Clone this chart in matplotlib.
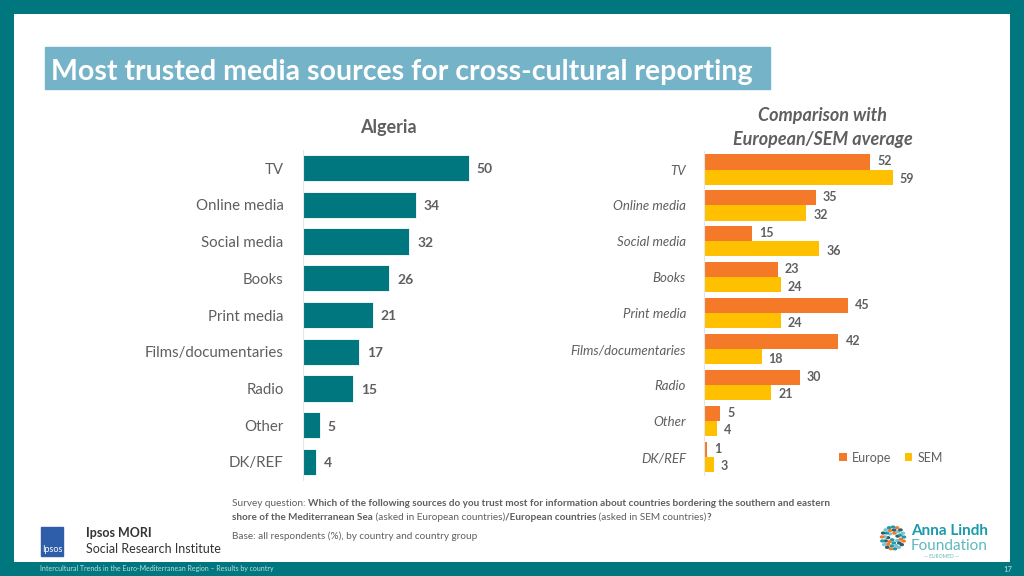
import matplotlib
matplotlib.use("Agg")
import matplotlib.pyplot as plt
import numpy as np
from matplotlib.patches import Rectangle, Circle

plt.rcParams['font.family'] = ['Lato', 'DejaVu Sans']

# data
categories = ["TV", "Online media", "Social media", "Books", "Print media",
              "Films/documentaries", "Radio", "Other", "DK/REF"]
algeria = [50, 34, 32, 26, 21, 17, 15, 5, 4]
europe = [52, 35, 15, 23, 45, 42, 30, 5, 1]
sem = [59, 32, 36, 24, 24, 18, 21, 4, 3]

TEAL = "#00767E"
ORANGE = "#F47A2A"
YELLOW = "#FFC000"
GREY = "#5F5F5F"

W, H = 1024, 576
fig = plt.figure(figsize=(W / 100, H / 100), dpi=100)
fig.patch.set_facecolor(TEAL)


def px_axes(x0, y0, x1, y1, **kw):
    # axes from pixel box (top-left origin)
    return fig.add_axes([x0 / W, 1 - y1 / H, (x1 - x0) / W, (y1 - y0) / H], **kw)


def ftext(x, y, s, **kw):
    return fig.text(x / W, 1 - y / H, s, **kw)


# white slide area
bg = px_axes(14, 14, 1010, 562)
bg.set_facecolor("white")
bg.set_xticks([]); bg.set_yticks([])
for s in bg.spines.values():
    s.set_visible(False)

# title box
fig.patches.append(Rectangle((45 / W, 1 - 89 / H), (770 - 45) / W, (89 - 47) / H,
                             transform=fig.transFigure, color="#74B3C8", zorder=1))
ftext(51, 72, "Most trusted media sources for cross-cultural reporting",
      color="white", fontsize=20.5, fontweight="bold", va="center", ha="left", zorder=2)

# left chart
y = np.arange(len(categories))
ax1 = px_axes(303, 150, 502, 480)
ax1.barh(y, algeria, height=0.71, color=TEAL, edgecolor="white", linewidth=0.6)
ax1.set_xlim(0, 60)
ax1.set_ylim(8.49, -0.49)
ax1.set_xticks([])
ax1.set_yticks(y)
ax1.set_yticklabels(categories, fontsize=10.8, color=GREY)
ax1.tick_params(axis="y", length=0, pad=14)
for s in ["top", "right", "bottom"]:
    ax1.spines[s].set_visible(False)
ax1.spines["left"].set_color("#E6E6E6")
for yi, v in zip(y, algeria):
    ax1.text(v + 2.4, yi + 0.04, str(v), va="center", ha="left", fontsize=10,
             fontweight="bold", color=GREY)
ax1.patch.set_alpha(0)
ftext(388, 127, "Algeria", fontsize=13, fontweight="bold", color=GREY,
      ha="center", va="center")

# right chart
ax2 = px_axes(704, 151, 928, 475)
h = 0.42
ax2.barh(y - h / 2, europe, height=h, color=ORANGE, label="Europe")
ax2.barh(y + h / 2, sem, height=h, color=YELLOW, label="SEM")
ax2.set_xlim(0, 70)
ax2.set_ylim(8.5, -0.515)
ax2.set_xticks([])
ax2.set_yticks(y)
ax2.set_yticklabels(categories, fontsize=9.5, color=GREY, fontstyle="italic")
ax2.tick_params(axis="y", length=0, pad=13)
for s in ["top", "right", "bottom"]:
    ax2.spines[s].set_visible(False)
ax2.spines["left"].set_color("#E6E6E6")
for yi, e, s_ in zip(y, europe, sem):
    ax2.text(e + 2.2, yi - h / 2 - 0.02, str(e), va="center", ha="left",
             fontsize=9, fontweight="bold", color=GREY)
    ax2.text(s_ + 2.2, yi + h / 2 + 0.05, str(s_), va="center", ha="left",
             fontsize=9, fontweight="bold", color=GREY)
ax2.patch.set_alpha(0)
leg = ax2.legend(loc="lower left", bbox_to_anchor=((828 - 704) / 224, 0.0), ncol=2,
                 frameon=False, fontsize=9, handlelength=0.6, handleheight=0.6,
                 columnspacing=1.1, handletextpad=0.4, labelcolor=GREY)
ftext(823, 116, "Comparison with", fontsize=13, fontweight="bold",
      fontstyle="italic", color=GREY, ha="center", va="center")
ftext(823, 140, "European/SEM average", fontsize=13, fontweight="bold",
      fontstyle="italic", color=GREY, ha="center", va="center")

# footnote with mixed weights
fig.canvas.draw()
renderer = fig.canvas.get_renderer()


def rich(x, yy, parts, size=7.2):
    for s, bold in parts:
        t = ftext(x, yy, s, fontsize=size, color=GREY, va="center", ha="left",
                  fontweight="bold" if bold else "normal")
        bb = t.get_window_extent(renderer)
        x += bb.width


rich(232, 504, [("Survey question: ", False),
                ("Which of the following sources do you trust most for information about countries bordering the southern and eastern", True)])
rich(232, 517, [("shore of the Mediterranean Sea", True), (" (asked in European countries)", False),
                ("/European countries", True), (" (asked in SEM countries)", False), ("?", True)])
rich(232, 536, [("Base: all respondents (%), by country and country group", False)])

# Ipsos logo
fig.patches.append(Rectangle((41 / W, 1 - 556 / H), 22 / W, 29 / H,
                             transform=fig.transFigure, color="#2E5EAA", zorder=3))
ftext(52, 549, "Ipsos", fontsize=6.5, color="white", ha="center", va="center", zorder=4)
ftext(86, 533, "Ipsos MORI", fontsize=9, fontweight="bold", color="#333333", va="center")
ftext(86, 549, "Social Research Institute", fontsize=9, color="#333333", va="center")

# Anna Lindh Foundation logo
ring_r = [2, 5, 8, 11]
ring_n = [1, 7, 12, 17]
dot_cols = ["#1B9AAA", "#F47A2A", "#2E5E6E", "#7CC4C8"]
k = 0
for r, n in zip(ring_r, ring_n):
    for j in range(n):
        a = 2 * np.pi * j / n + r
        cx = 893 + r * np.cos(a)
        cy = 538 + r * np.sin(a)
        fig.patches.append(Circle((cx / W, 1 - cy / H), 1.6 / W,
                                  transform=fig.transFigure,
                                  color=dot_cols[k % 4], zorder=3))
        k += 1
ftext(911, 531, "Anna Lindh", fontsize=11, fontweight="bold", color="#1B9AAA", va="center")
ftext(911, 546, "Foundation", fontsize=11, color="#5EB8BD", va="center")
ftext(941, 557, "— EUROMED —", fontsize=3.5, color="#5EB8BD", ha="center", va="center")

# bottom strip
ftext(40, 569, "Intercultural Trends in the Euro-Mediterranean Region \u2013 Results by country",
      fontsize=5, color="#BFE0E0", va="center")
ftext(1012, 569, "17", fontsize=5.5, color="#BFE0E0", va="center", ha="right")

fig.savefig("out.png", dpi=100, facecolor=fig.get_facecolor())
